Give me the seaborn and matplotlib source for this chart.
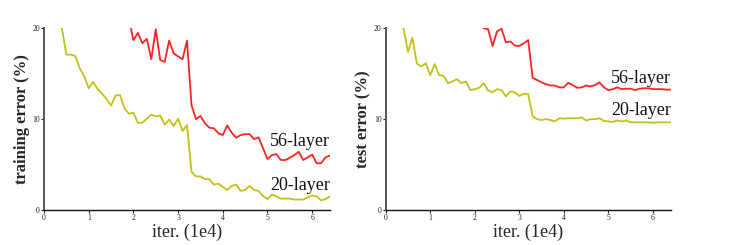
import numpy as np
import pandas as pd
import matplotlib
matplotlib.use("Agg")
import matplotlib.pyplot as plt
import seaborn as sns

# ---- data (iterations in 1e4, error in %) ----
train20_x = [round(0.4 + 0.1 * i, 1) for i in range(61)]
train20_y = [20.0, 17.1, 17.1, 16.95, 15.6, 14.7, 13.4, 14.1, 13.3, 12.8, 12.2,
             11.5, 12.6, 12.65, 11.2, 10.6, 10.7, 9.6, 9.6, 10.05, 10.5,
             10.3, 10.4, 9.4, 9.95, 9.25, 10.05, 8.7, 9.35, 4.2, 3.7,
             3.7, 3.4, 3.4, 2.8, 2.9, 2.55, 2.2, 2.65, 2.8, 2.1,
             2.2, 2.65, 2.2, 2.1, 1.55, 1.2, 1.7, 1.5, 1.25, 1.25,
             1.25, 1.15, 1.15, 1.15, 1.4, 1.6, 1.5, 1.05, 1.2, 1.5]

train56_x = [round(1.9 + 0.1 * i, 1) for i in range(46)]
train56_y = [21.0, 18.7, 19.5, 18.35, 18.85, 16.6, 19.9, 16.5, 16.3, 18.65,
             17.25, 16.9, 16.6, 18.65, 11.55, 10.0, 10.35, 9.55, 9.05, 9.0,
             8.45, 8.25, 9.3, 8.5, 7.95, 8.25, 8.35, 8.35, 7.8, 8.0,
             6.8, 5.6, 6.05, 6.15, 5.5, 5.5, 5.75, 6.05, 6.4, 5.5,
             5.8, 6.1, 5.15, 5.15, 5.8, 6.0]

test20_x = [round(0.4 + 0.1 * i, 1) for i in range(61)]
test20_y = [20.0, 17.4, 18.95, 16.1, 15.8, 16.15, 14.85, 16.05, 14.85, 14.75, 13.95,
            14.15, 14.4, 13.95, 14.15, 13.2, 13.3, 13.45, 13.95, 13.15, 12.95,
            13.3, 13.2, 12.5, 13.05, 12.95, 12.55, 12.8, 12.75, 10.3, 10.0,
            9.9, 10.0, 9.9, 9.75, 10.1, 10.05, 10.1, 10.1, 10.1, 10.2,
            9.85, 10.0, 10.0, 10.1, 9.8, 9.75, 9.7, 9.85, 9.75, 9.85,
            9.65, 9.65, 9.65, 9.65, 9.65, 9.6, 9.65, 9.65, 9.65, 9.65]

test56_x = [round(2.2 + 0.1 * i, 1) for i in range(43)]
test56_y = [20.0, 19.9, 18.05, 19.65, 19.95, 18.45, 18.55, 18.1, 18.05, 18.35,
            18.7, 14.55, 14.3, 14.05, 13.85, 13.7, 13.7, 13.5, 13.5, 14.0,
            13.75, 13.45, 13.5, 13.7, 13.6, 13.75, 14.05, 13.5, 13.2, 13.3,
            13.5, 13.3, 13.35, 13.35, 13.2, 13.35, 13.4, 13.4, 13.3, 13.3,
            13.3, 13.25, 13.25]

series_names = ["20-layer", "56-layer"]
ylabels = ["training error (%)", "test error (%)"]
xlabel = "iter. (1e4)"
x_ticks = [0, 1, 2, 3, 4, 5, 6]
y_ticks = [0, 10, 20]

def frame(x20, y20, x56, y56):
    return pd.concat([
        pd.DataFrame({"iter": x20, "err": y20, "model": series_names[0]}),
        pd.DataFrame({"iter": x56, "err": y56, "model": series_names[1]}),
    ], ignore_index=True)

train_df = frame(train20_x, train20_y, train56_x, train56_y)
test_df = frame(test20_x, test20_y, test56_x, test56_y)

sns.set_theme(style="white")
plt.rcParams["font.family"] = ["Liberation Serif", "DejaVu Serif"]

palette = {"20-layer": "#c2c21a", "56-layer": "#ff2424"}

fig = plt.figure(figsize=(7.29, 2.45), dpi=100)
ax1 = fig.add_axes([0.0604, 0.1429, 0.3923, 0.7416])
ax2 = fig.add_axes([0.5291, 0.1429, 0.3909, 0.7416])

label_pos = [  # (y of 56-layer, y of 20-layer) text baselines
    (7.0, 2.25),
    (14.0, 10.45),
]

for ax, df, ylab, lp in zip([ax1, ax2], [train_df, test_df], ylabels, label_pos):
    sns.lineplot(data=df, x="iter", y="err", hue="model", palette=palette,
                 ax=ax, legend=False, linewidth=1.3, estimator=None)
    ax.set_xlim(0, 6.4)
    ax.set_ylim(0, 20)
    ax.set_xticks(x_ticks)
    ax.set_yticks(y_ticks)
    ax.tick_params(axis="both", labelsize=5.5, length=2, width=0.8, pad=1,
                   direction="out", colors="#222222", left=True, bottom=True)
    for s in ["top", "right"]:
        ax.spines[s].set_visible(False)
    ax.spines["left"].set_color("#555555")
    ax.spines["left"].set_linewidth(1.4)
    ax.spines["bottom"].set_color("#111111")
    ax.spines["bottom"].set_linewidth(1.0)
    ax.set_xlabel(xlabel, fontsize=13, labelpad=1)
    ax.set_ylabel(ylab, fontsize=12, fontweight="bold", labelpad=1.5)
    ax.text(6.4, lp[0], series_names[1], ha="right", va="baseline", fontsize=13,
            color="#111111")
    ax.text(6.4, lp[1], series_names[0], ha="right", va="baseline", fontsize=13,
            color="#111111")

fig.savefig("out.png", dpi=100)
